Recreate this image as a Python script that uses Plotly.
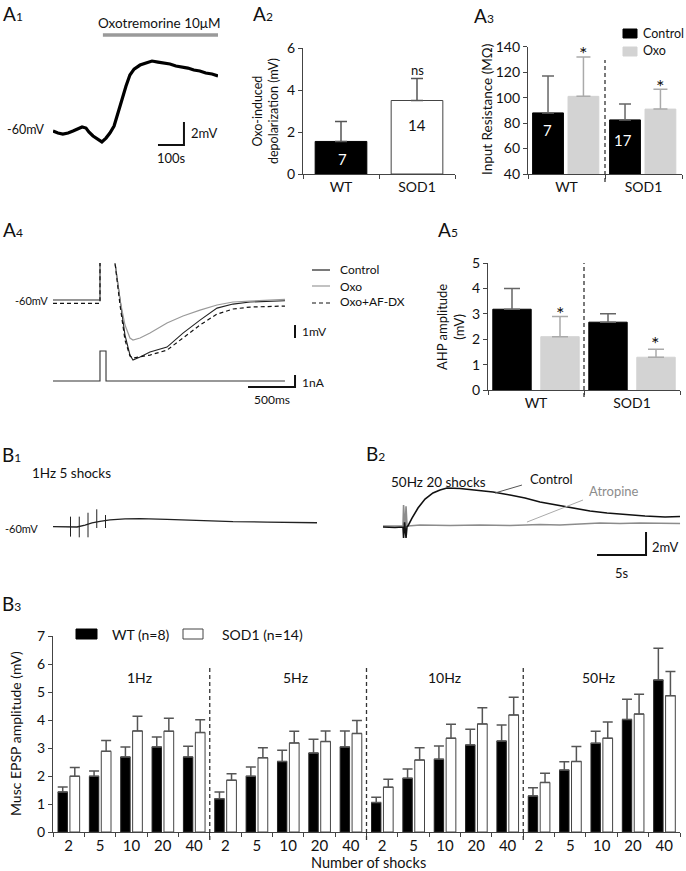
import plotly.graph_objects as go

W, H = 686, 871
FONT = "Lato"
INK = "#111111"
AXIS = "#444444"

# ---------------- data ----------------
# A1 : oxotremorine-induced depolarisation (time s, Vm mV)
a1_time_s = [0, 19, 38, 58, 77, 96, 112, 127, 138, 154, 173, 188, 204, 219, 235, 250,
             265, 281, 296, 312, 335, 358, 381, 404, 427, 450, 473, 496, 519, 542, 565,
             588, 612, 635]
a1_vm_mv = [-60.09, -60.26, -60.35, -60.26, -60.09, -59.91, -59.74, -59.83, -60.17, -60.52,
            -60.78, -61.04, -60.70, -60.26, -59.65, -58.61, -57.39, -56.17, -55.22, -54.70,
            -54.35, -54.17, -54.00, -54.09, -54.17, -54.26, -54.43, -54.52, -54.61, -54.78,
            -54.87, -55.04, -55.13, -55.30]
a1_drug_s = [192, 635]

# A2 : oxo-induced depolarisation
a2_groups = ["WT", "SOD1"]
a2_mean = [1.55, 3.50]
a2_sem = [0.95, 1.05]
a2_n = ["7", "14"]

# A3 : input resistance
a3_groups = ["WT", "SOD1"]
a3_ctrl = [88.0, 82.5]
a3_ctrl_sem = [29.0, 12.5]
a3_oxo = [101.0, 91.0]
a3_oxo_sem = [31.0, 15.5]
a3_n = ["7", "17"]

# A4 : AHP traces (time ms, Vm mV) and injected current (nA)
a4_t_ms = [0, 250, 500, 502, 655, 660, 713, 766, 819, 851, 926, 1032, 1213, 1383, 1564,
           1745, 1915, 2096, 2468]
a4_ctrl = [-60.0, -60.0, -60.0, 0, 0, -57.15, -60.0, -62.69, -64.23, -64.62, -64.38, -64.0,
           -63.62, -62.54, -61.54, -60.62, -60.31, -60.15, -60.05]
a4_oxo = [-60.0, -60.0, -60.0, 0, 0, -57.15, -60.0, -61.92, -62.92, -63.08, -62.92, -62.54,
          -61.77, -61.23, -60.77, -60.38, -60.15, -60.08, -59.95]
a4_afdx = [-60.25, -60.25, -60.25, 0, 0, -57.15, -60.38, -63.08, -64.31, -64.46, -64.38,
           -64.23, -63.85, -62.92, -61.92, -61.08, -60.69, -60.54, -60.46]
a4_i_t_ms = [0, 500, 500, 564, 564, 2468]
a4_i_nA = [0, 0, 2.5, 2.5, 0, 0]

# A5 : AHP amplitude
a5_groups = ["WT", "SOD1"]
a5_ctrl = [3.18, 2.67]
a5_ctrl_sem = [0.82, 0.33]
a5_oxo = [2.10, 1.29]
a5_oxo_sem = [0.79, 0.31]

# B1 : 1 Hz, 5 shocks (time s, Vm mV)
b1_t_s = [0, 1.03, 1.94, 2.74, 3.66, 4.46, 5.37, 6.51, 8.23, 9.94, 13.03, 16.8, 20.57, 24.46, 30.17]
b1_vm = [-59.97, -60.0, -60.04, -60.0, -59.83, -59.65, -59.52, -59.39, -59.30, -59.28, -59.33,
         -59.45, -59.54, -59.57, -59.63]
b1_shock_t = [2, 3, 4, 5, 6]
b1_shock_top = [-59.10, -59.10, -58.76, -58.46, -58.96]
b1_shock_bot = [-60.84, -60.90, -60.90, -60.09, -60.09]

# B2 : 50 Hz 20 shocks, control vs atropine
b2_ctrl_t = [0, 1.22, 2.04, 2.10, 2.20, 2.35, 2.45, 2.55, 2.96, 3.57, 4.29, 5.10, 5.82, 6.53,
             7.86, 9.39, 11.22, 12.96, 14.49, 16.02, 17.76, 19.39, 21.12, 22.86, 24.69, 26.73,
             28.78, 30.31]
b2_ctrl_v = [-60.0, -60.04, -60.0, -60.96, -59.6, -60.96, -59.95, -59.91, -59.22, -58.35,
             -57.57, -57.04, -56.78, -56.61, -56.65, -56.78, -56.96, -57.22, -57.48, -57.83,
             -58.09, -58.35, -58.61, -58.78, -58.91, -59.04, -59.13, -59.09]
b2_atr_t = [0, 1.73, 2.04, 2.10, 2.25, 2.35, 2.45, 2.55, 3.78, 6.84, 9.90, 12.96, 16.02, 18.06,
            20.10, 22.14, 24.18, 26.22, 30.31]
b2_atr_v = [-59.91, -59.96, -59.91, -58.09, -60.3, -58.2, -59.9, -59.91, -59.83, -59.87,
            -59.83, -59.87, -59.78, -59.83, -59.74, -59.65, -59.70, -59.65, -59.70]

# B3 : muscarinic EPSP amplitude
b3_freqs = ["1Hz", "5Hz", "10Hz", "50Hz"]
b3_shocks = ["2", "5", "10", "20", "40"]
b3_wt = [1.43, 1.99, 2.68, 3.04, 2.68,
         1.19, 1.99, 2.52, 2.82, 3.04,
         1.05, 1.92, 2.60, 3.11, 3.25,
         1.29, 2.21, 3.17, 4.02, 5.43]
b3_wt_sem = [0.18, 0.19, 0.36, 0.35, 0.38,
             0.24, 0.33, 0.40, 0.49, 0.57,
             0.19, 0.33, 0.47, 0.56, 0.57,
             0.29, 0.30, 0.43, 0.72, 1.13]
b3_sod = [1.99, 2.88, 3.61, 3.60, 3.55,
          1.85, 2.65, 3.18, 3.23, 3.52,
          1.60, 2.57, 3.35, 3.86, 4.18,
          1.77, 2.52, 3.35, 4.21, 4.87]
b3_sod_sem = [0.31, 0.39, 0.52, 0.46, 0.46,
              0.23, 0.36, 0.42, 0.38, 0.46,
              0.28, 0.44, 0.50, 0.58, 0.63,
              0.33, 0.53, 0.58, 0.71, 0.86]

# ---------------- helpers ----------------
def fx(x): return x / W
def fy(y): return 1 - y / H
def dx(a, b): return [a / W, b / W]
def dy(top, bottom): return [1 - bottom / H, 1 - top / H]

fig = go.Figure()

def line(x, y, ax, color=INK, width=1.2, dash="solid"):
    fig.add_trace(go.Scatter(x=x, y=y, mode="lines", xaxis="x" + ax, yaxis="y" + ax,
                             line=dict(color=color, width=width, dash=dash),
                             showlegend=False, hoverinfo="skip"))

def errs(sem, color, width=5, thick=1.5):
    return dict(type="data", symmetric=False, array=sem, arrayminus=[0] * len(sem),
                color=color, thickness=thick, width=width)

def bar(x, y, ax, color, offset, width, sem, ecol, lcol=None, ewidth=5):
    fig.add_trace(go.Bar(x=x, y=y, xaxis="x" + ax, yaxis="y" + ax, offset=offset, width=width,
                         marker=dict(color=color, line=dict(color=lcol or color, width=1)),
                         error_y=errs(sem, ecol, ewidth), showlegend=False, hoverinfo="skip"))

# ---- A1 ----
line(a1_time_s, a1_vm_mv, "1", color="#000", width=3.2)
line(a1_drug_s, [-51.74, -51.74], "1", color="#9a9a9a", width=3.5)
A1_BAR_T, A1_BAR_V, A1_S, A1_MV = 504, -61.3, 100, 2
line([A1_BAR_T - A1_S, A1_BAR_T, A1_BAR_T], [A1_BAR_V, A1_BAR_V, A1_BAR_V + A1_MV], "1", width=2)

# ---- A2 ----
bar(a2_groups[:1], a2_mean[:1], "2", "#000", -0.34, 0.68, a2_sem[:1], "#555", "#000", 6)
bar(a2_groups[1:], a2_mean[1:], "2", "#fff", -0.34, 0.68, a2_sem[1:], "#555", "#444", 6)

# ---- A3 ----
bar(a3_groups, a3_ctrl, "3", "#000", -0.44, 0.40, a3_ctrl_sem, "#666", ewidth=6)
bar(a3_groups, a3_oxo, "3", "#d3d3d3", 0.02, 0.40, a3_oxo_sem, "#aaa", ewidth=7)

# ---- A4 ----
line(a4_t_ms, a4_ctrl, "4", color="#222", width=1.1)
line(a4_t_ms, a4_oxo, "4", color="#9a9a9a", width=1.2)
line(a4_t_ms, a4_afdx, "4", color="#111", width=1.2, dash="4px,3px")
line(a4_i_t_ms, a4_i_nA, "5", color="#333", width=1.1)
A4_BAR_T, A4_MV_BOT, A4_NA_BOT = 2575, -62.92, -0.5
line([A4_BAR_T, A4_BAR_T], [A4_MV_BOT, A4_MV_BOT + 1], "4", width=2)
line([A4_BAR_T - 500, A4_BAR_T, A4_BAR_T], [A4_NA_BOT, A4_NA_BOT, A4_NA_BOT + 1], "5", width=2)

# ---- A5 ----
bar(a5_groups, a5_ctrl, "6", "#000", -0.45, 0.40, a5_ctrl_sem, "#666", ewidth=8)
bar(a5_groups, a5_oxo, "6", "#d3d3d3", 0.05, 0.40, a5_oxo_sem, "#aaa", ewidth=8)

# ---- B1 ----
line(b1_t_s, b1_vm, "7", color="#222", width=1.3)
sx, sy = [], []
for t, a, b in zip(b1_shock_t, b1_shock_top, b1_shock_bot):
    sx += [t, t, None]
    sy += [a, b, None]
line(sx, sy, "7", color="#222", width=1)

# ---- B2 ----
line(b2_atr_t, b2_atr_v, "8", color="#8c8c8c", width=1.6)
line(b2_ctrl_t, b2_ctrl_v, "8", color="#111", width=1.6)
B2_BAR_T, B2_BAR_V = 26.84, -62.43
line([B2_BAR_T - 5, B2_BAR_T, B2_BAR_T], [B2_BAR_V, B2_BAR_V, B2_BAR_V + 2], "8", width=2)

# ---- B3 ----
b3_x = list(range(len(b3_wt)))
bar(b3_x, b3_wt, "9", "#000", -0.34, 0.30, b3_wt_sem, "#555", "#222", 5)
bar(b3_x, b3_sod, "9", "#fff", 0.04, 0.31, b3_sod_sem, "#555", "#444", 5)

# ---------------- axes ----------------
def hid(domain, rng, anchor):
    return dict(domain=domain, range=rng, visible=False, anchor=anchor, fixedrange=True,
                showgrid=False, zeroline=False, automargin=False)

def ax_style(domain, anchor, **kw):
    d = dict(domain=domain, anchor=anchor, showline=True, linecolor=AXIS, linewidth=1.3,
             ticks="outside", ticklen=4, tickcolor=AXIS, tickwidth=1.3, showgrid=False,
             zeroline=False, tickfont=dict(size=14, color=INK), fixedrange=True,
             automargin=False)
    d.update(kw)
    return d

layout = dict(
    width=W, height=H, autosize=False,
    margin=dict(l=0, r=0, t=0, b=0, pad=0, autoexpand=False),
    paper_bgcolor="white", plot_bgcolor="rgba(0,0,0,0)", barmode="overlay",
    font=dict(family=FONT, color=INK, size=13), showlegend=False,
)
layout["xaxis"] = hid(dx(53, 218), [0, 635], "y")
layout["yaxis"] = hid(dy(30, 150), [-61.74, -51.30], "x")
layout["xaxis2"] = ax_style(dx(303, 455), "y2", type="category", tickson="boundaries", range=[-0.5, 1.5])
layout["yaxis2"] = ax_style(dy(48, 174), "x2", range=[0, 6], tickvals=[0, 2, 4, 6])
layout["xaxis3"] = ax_style(dx(528, 682), "y3", type="category", tickson="boundaries", range=[-0.5, 1.5])
layout["yaxis3"] = ax_style(dy(46.7, 174), "x3", range=[40, 140], tickvals=[40, 60, 80, 100, 120, 140])
layout["xaxis4"] = hid(dx(53, 300), [0, 2628], "y4")
layout["yaxis4"] = hid(dy(263, 370), [-65.38, -57.15], "x4")
layout["xaxis5"] = hid(dx(53, 300), [0, 2628], "y5")
layout["yaxis5"] = hid(dy(345, 392), [-0.917, 3.0], "x5")
layout["xaxis6"] = ax_style(dx(488, 680), "y6", type="category", tickson="boundaries", range=[-0.5, 1.5])
layout["yaxis6"] = ax_style(dy(263, 390), "x6", range=[0, 5], tickvals=[0, 1, 2, 3, 4, 5])
layout["xaxis7"] = hid(dx(53, 317), [0, 30.17], "y7")
layout["yaxis7"] = hid(dy(500, 545), [-61.57, -57.65], "x7")
layout["xaxis8"] = hid(dx(383, 682), [0, 30.51], "y8")
layout["yaxis8"] = hid(dy(480, 560), [-62.87, -55.91], "x8")
layout["xaxis9"] = ax_style(dx(53, 680), "y9", range=[-0.5, 19.5], tickvals=b3_x,
                            ticktext=b3_shocks * len(b3_freqs), ticks="",
                            tickfont=dict(size=15, color=INK),
                            minor=dict(ticks="outside", ticklen=4, tick0=-0.5, dtick=1,
                                       tickcolor=AXIS, tickwidth=1.3, showgrid=False))
layout["yaxis9"] = ax_style(dy(636, 832), "x9", range=[0, 7], dtick=1)

fig.update_layout(**layout)

# ---------------- shapes ----------------
shapes = []
def vdash(xref, xv, top, bottom):
    shapes.append(dict(type="line", xref=xref, yref="paper", x0=xv, x1=xv, y0=fy(bottom), y1=fy(top),
                       line=dict(color="#333", width=1.3, dash="4px,3px")))
vdash("x3", 0.5, 60, 182)
vdash("x6", 0.5, 263, 397)
for b in [4.5, 9.5, 14.5]:
    vdash("x9", b, 666, 840)

def prect(x0, y0, x1, y1, fill, lc):
    shapes.append(dict(type="rect", xref="paper", yref="paper", x0=fx(x0), x1=fx(x1),
                       y0=fy(y1), y1=fy(y0), fillcolor=fill, line=dict(color=lc, width=1)))
prect(623, 29, 637, 38, "#000", "#000")
prect(623, 47, 637, 56, "#d3d3d3", "#d3d3d3")
prect(76, 629, 97, 639, "#000", "#000")
prect(183, 629, 203, 639, "#fff", "#444")

def pline(x0, y0, x1, y1, color, dash="solid", width=1.2):
    shapes.append(dict(type="line", xref="paper", yref="paper", x0=fx(x0), x1=fx(x1),
                       y0=fy(y0), y1=fy(y1), line=dict(color=color, width=width, dash=dash)))
pline(312, 270, 330, 270, "#222")
pline(312, 286, 330, 286, "#9a9a9a")
pline(312, 303, 330, 303, "#111", dash="4px,3px")
# pointer lines in B2
shapes.append(dict(type="line", xref="x8", yref="y8", x0=11.43, y0=-57.04, x1=14.18, y1=-56.35,
                   line=dict(color="#555", width=1)))
shapes.append(dict(type="line", xref="x8", yref="y8", x0=14.69, y0=-59.57, x1=20.41, y1=-57.65,
                   line=dict(color="#aaa", width=1)))
fig.update_layout(shapes=shapes)

# ---------------- annotations ----------------
anns = []
def ann(text, x, y, size=13, xanchor="center", color=INK, angle=0, yanchor="middle"):
    anns.append(dict(text=text, x=fx(x), y=fy(y), xref="paper", yref="paper", showarrow=False,
                     xanchor=xanchor, yanchor=yanchor, textangle=angle,
                     font=dict(size=size, color=color, family=FONT)))

def panel(letter, num, x, y):
    ann(f"{letter}<span style='font-size:12px'>{num}</span>", x, y, size=19, xanchor="left")

panel("A", "1", 1, 13)
panel("A", "2", 251, 13)
panel("A", "3", 472, 16)
panel("A", "4", 1, 230)
panel("A", "5", 436, 230)
panel("B", "1", 0, 455)
panel("B", "2", 364, 453)
panel("B", "3", 0, 603)

# A1
ann("Oxotremorine 10μM", 159, 23, 13.5)
ann("-60mV", 47, 129, 12.5, xanchor="right")
ann("2mV", 189, 133, 13, xanchor="left")
ann("100s", 171, 158, 13)
# A2
ann("Oxo-induced<br>depolarization (mV)", 266, 111, 12.5, angle=-90)
ann("7", 342, 159, 15, color="#fff")
ann("14", 417, 125, 15)
ann("ns", 417, 70, 13)
# A3
ann("Input Resistance (MΩ)", 487, 110, 13.5, angle=-90)
ann("7", 547, 130, 15, color="#fff")
ann("17", 623, 140, 15, color="#fff")
ann("*", 583, 53, 20)
ann("*", 660, 86, 20)
ann("Control", 641, 33, 12.5, xanchor="left")
ann("Oxo", 641, 51, 12.5, xanchor="left")
# A4
ann("-60mV", 50, 300, 11, xanchor="right")
ann("Control", 338, 269, 12, xanchor="left")
ann("Oxo", 338, 286, 12, xanchor="left")
ann("Oxo+AF-DX", 338, 302, 12, xanchor="left")
ann("1mV", 300, 332, 12, xanchor="left")
ann("1nA", 300, 382, 12, xanchor="left")
ann("500ms", 272, 400, 12)
# A5
ann("AHP amplitude<br>(mV)", 451, 327, 13, angle=-90)
ann("*", 560, 313, 20)
ann("*", 655, 343, 20)
# B1
ann("1Hz 5 shocks", 30, 473, 13.5, xanchor="left")
ann("-60mV", 40, 528, 11, xanchor="right")
# B2
ann("50Hz 20 shocks", 389, 482, 13.5, xanchor="left")
ann("Control", 528, 479, 13, xanchor="left")
ann("Atropine", 587, 491, 13, xanchor="left", color="#8c8c8c")
ann("2mV", 650, 547, 13, xanchor="left")
ann("5s", 622, 573, 13)
# B3
ann("WT (n=8)", 110, 634, 14, xanchor="left")
ann("SOD1 (n=14)", 220, 634, 14, xanchor="left")
for i, f in enumerate(b3_freqs):
    ann(f, [139, 295, 444, 598][i], 677, 14)
ann("Number of shocks", 368, 862, 14.5)
ann("Musc EPSP amplitude (mV)", 15, 734, 14, angle=-90)

fig.update_layout(annotations=anns)
fig.write_html("out.html", config={"responsive": False, "displayModeBar": False},
               post_script="document.body.style.margin='0';document.body.style.overflow='hidden';")
